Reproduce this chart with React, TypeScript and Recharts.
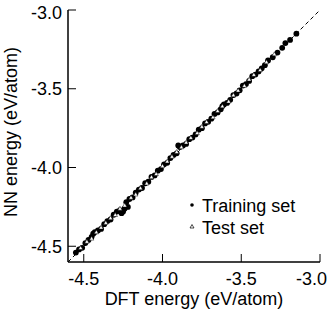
import React from 'react';
import { ScatterChart, Scatter, XAxis, YAxis, ReferenceLine, Legend, Label } from 'recharts';

const FONT = '"Liberation Sans", Arial, Helvetica, sans-serif';

// DFT energy (x) vs NN energy (y), eV/atom
const trainDft = [
  -4.55, -4.53, -4.51, -4.49, -4.47, -4.45, -4.44, -4.43, -4.41, -4.39, -4.37, -4.35, -4.33, -4.31,
  -4.29, -4.27, -4.26, -4.25, -4.24, -4.23, -4.22, -4.21, -4.19, -4.17, -4.15, -4.13, -4.11, -4.09,
  -4.07, -4.05, -4.03, -4.01, -3.99, -3.97, -3.95, -3.93, -3.91, -3.90, -3.89, -3.87, -3.85, -3.83,
  -3.81, -3.79, -3.77, -3.75, -3.73, -3.71, -3.69, -3.67, -3.65, -3.63, -3.62, -3.61, -3.59, -3.57,
  -3.55, -3.53, -3.51, -3.49, -3.47, -3.45, -3.43, -3.41, -3.39, -3.37, -3.35, -3.33, -3.30, -3.27,
  -3.24, -3.22, -3.19, -3.15,
];
const trainNn = [
  -4.54, -4.52, -4.51, -4.48, -4.46, -4.44, -4.42, -4.41, -4.40, -4.39, -4.36, -4.34, -4.33, -4.30,
  -4.28, -4.27, -4.29, -4.28, -4.26, -4.22, -4.25, -4.20, -4.19, -4.16, -4.14, -4.13, -4.10, -4.09,
  -4.06, -4.05, -4.02, -4.01, -3.98, -3.97, -3.94, -3.92, -3.91, -3.86, -3.87, -3.86, -3.85, -3.82,
  -3.81, -3.79, -3.76, -3.75, -3.72, -3.71, -3.69, -3.66, -3.65, -3.63, -3.61, -3.60, -3.59, -3.57,
  -3.54, -3.53, -3.51, -3.48, -3.47, -3.45, -3.42, -3.41, -3.39, -3.37, -3.35, -3.32, -3.30, -3.27,
  -3.24, -3.21, -3.19, -3.15,
];
const testDft = [
  -4.52, -4.48, -4.45, -4.42, -4.39, -4.36, -4.33, -4.30, -4.27, -4.24, -4.20, -4.17, -4.14, -4.10,
  -4.07, -4.04, -4.00, -3.97, -3.94, -3.91, -3.88, -3.85, -3.82, -3.78, -3.75, -3.72, -3.68, -3.65,
  -3.62, -3.58, -3.55, -3.52, -3.48, -3.45, -3.42, -3.38, -3.34, -3.29,
];
const testNn = [
  -4.51, -4.47, -4.45, -4.41, -4.38, -4.35, -4.32, -4.30, -4.26, -4.24, -4.19, -4.17, -4.13, -4.10,
  -4.06, -4.04, -3.99, -3.96, -3.93, -3.90, -3.87, -3.84, -3.81, -3.78, -3.74, -3.71, -3.68, -3.64,
  -3.61, -3.58, -3.54, -3.51, -3.48, -3.44, -3.41, -3.38, -3.33, -3.28,
];
const axisTicks = [-4.5, -4.0, -3.5, -3.0];
const axisDomain: [number, number] = [-4.6, -3.0];

const training = trainDft.map((x, i) => ({ x, y: trainNn[i] }));
const test = testDft.map((x, i) => ({ x, y: testNn[i] }));

const TICK = 6; // recharts tickSize (outward offset used for label placement)
const IN = 8; // inward tick length
const BOTTOM_MARGIN = 4;
const LEFT_MARGIN = 0;

const DotShape = (p: any) => <circle cx={p.cx} cy={p.cy} r={2.9} fill="#000" />;

const TriShape = (p: any) => {
  const { cx, cy } = p;
  const s = 2.2;
  return (
    <polygon
      points={`${cx},${cy - s} ${cx + s},${cy + s * 0.8} ${cx - s},${cy + s * 0.8}`}
      fill="#fff"
      stroke="#000"
      strokeWidth={0.5}
    />
  );
};

// custom ticks: inward tick mark + label outside
const BottomTick = (p: any) => {
  const axisY = p.y - TICK - BOTTOM_MARGIN;
  const last = p.index === p.visibleTicksCount - 1;
  return (
    <g>
      <line x1={p.x} x2={p.x} y1={axisY} y2={axisY - IN} stroke="#000" strokeWidth={1} />
      <text
        x={last ? p.x + 7 : p.x}
        y={p.y}
        dy="0.71em"
        textAnchor={last ? 'end' : 'middle'}
        fontSize={18}
        fontFamily={FONT}
        fill="#000"
      >
        {p.payload.value.toFixed(1)}
      </text>
    </g>
  );
};
const LeftTick = (p: any) => {
  const axisX = p.x + TICK + LEFT_MARGIN;
  const last = p.index === p.visibleTicksCount - 1;
  return (
    <g>
      <line x1={axisX} x2={axisX + IN} y1={p.y} y2={p.y} stroke="#000" strokeWidth={1} />
      <text x={p.x} y={last ? p.y + 3 : p.y} dy="0.355em" textAnchor="end" fontSize={18} fontFamily={FONT} fill="#000">
        {p.payload.value.toFixed(1)}
      </text>
    </g>
  );
};
const TopTick = (p: any) => {
  const axisY = p.y + TICK;
  return <line x1={p.x} x2={p.x} y1={axisY} y2={axisY + IN} stroke="#000" strokeWidth={1} />;
};
const RightTick = (p: any) => {
  const axisX = p.x - TICK;
  return <line x1={axisX} x2={axisX - IN} y1={p.y} y2={p.y} stroke="#000" strokeWidth={1} />;
};

const LegendBox = () => (
  <svg width={140} height={48}>
    <circle cx={7} cy={13} r={1.8} fill="#000" />
    <text x={17} y={19.5} fontSize={18} fontFamily={FONT} fill="#000">Training set</text>
    <polygon points="7,32.5 9,36 5,36" fill="#fff" stroke="#000" strokeWidth={0.7} />
    <text x={17} y={41.5} fontSize={18} fontFamily={FONT} fill="#000">Test set</text>
  </svg>
);

const border = { stroke: '#000', strokeWidth: 1.5 };

export default function App() {
  return (
    <div style={{ position: 'absolute', left: 0, top: 0, background: '#fff' }}>
      <ScatterChart width={331} height={319} margin={{ top: 10, right: 11, bottom: 0, left: 0 }}>
        <XAxis
          dataKey="x"
          type="number"
          domain={axisDomain}
          ticks={axisTicks}
          allowDataOverflow
          tickLine={false}
          tickSize={TICK}
          tickMargin={BOTTOM_MARGIN}
          height={57}
          axisLine={border}
          tick={BottomTick}
        >
          <Label value="DFT energy (eV/atom)" position="insideBottom" offset={14} fontSize={18} fontFamily={FONT} fill="#000" />
        </XAxis>
        <XAxis
          xAxisId="top"
          orientation="top"
          type="number"
          domain={axisDomain}
          ticks={axisTicks}
          allowDataOverflow
          tickLine={false}
          tickSize={TICK}
          tickMargin={0}
          height={0}
          axisLine={border}
          tick={TopTick}
        />
        <YAxis
          dataKey="y"
          type="number"
          domain={axisDomain}
          ticks={axisTicks}
          allowDataOverflow
          tickLine={false}
          tickSize={TICK}
          tickMargin={LEFT_MARGIN}
          width={68}
          axisLine={border}
          tick={LeftTick}
        >
          <Label
            content={() => (
              <text x={17} y={132} transform="rotate(-90 17 132)" textAnchor="middle" fontSize={18} fontFamily={FONT} fill="#000">
                NN energy (eV/atom)
              </text>
            )}
          />
        </YAxis>
        <YAxis
          yAxisId="right"
          orientation="right"
          type="number"
          domain={axisDomain}
          ticks={axisTicks}
          allowDataOverflow
          tickLine={false}
          tickSize={TICK}
          tickMargin={0}
          width={0}
          axisLine={border}
          tick={RightTick}
        />
        <ReferenceLine
          segment={[{ x: axisDomain[0], y: axisDomain[0] }, { x: axisDomain[1], y: axisDomain[1] }]}
          stroke="#000"
          strokeWidth={1}
          strokeDasharray="4 3"
        />
        <Scatter name="Training set" data={training} shape={DotShape} isAnimationActive={false} />
        <Scatter name="Test set" data={test} shape={TriShape} isAnimationActive={false} />
        <Legend
          layout="vertical"
          align="center"
          verticalAlign="middle"
          content={() => <LegendBox />}
          wrapperStyle={{ left: 185, top: 192, width: 140, height: 48 }}
        />
      </ScatterChart>
    </div>
  );
}
